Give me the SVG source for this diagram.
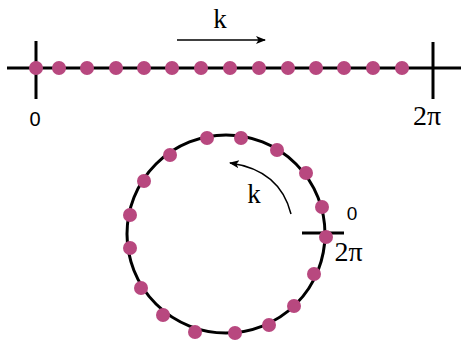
<svg xmlns="http://www.w3.org/2000/svg" width="461" height="343" viewBox="0 0 461 343">
<style>
.ln{stroke:#000;stroke-width:3;fill:none}
.thin{stroke:#000;stroke-width:1.5;fill:none}
.dot{fill:#b8487f}
.sans{font-family:"Liberation Sans",sans-serif;fill:#000}
.serif{font-family:"Liberation Serif",serif;fill:#000}
</style>
<defs>
<marker id="ah" viewBox="0 0 10 10" refX="9" refY="5" markerWidth="10" markerHeight="10" markerUnits="userSpaceOnUse" orient="auto">
<path d="M0,1 L10,5 L0,9 L2.5,5 Z" fill="#000"/>
</marker>
</defs>
<g id="line">
<line class="ln" x1="7" y1="68" x2="461" y2="68"/>
<line class="ln" x1="36" y1="41" x2="36" y2="99"/>
<line class="ln" x1="433" y1="42" x2="433" y2="99"/>
</g>
<g id="line-dots" class="dot">
<circle cx="36" cy="68" r="7"/><circle cx="59" cy="68" r="7"/><circle cx="87" cy="68" r="7"/><circle cx="116" cy="68" r="7"/><circle cx="144" cy="68" r="7"/><circle cx="172" cy="68" r="7"/><circle cx="201" cy="68" r="7"/><circle cx="230" cy="68" r="7"/><circle cx="259" cy="68" r="7"/><circle cx="288" cy="68" r="7"/><circle cx="316" cy="68" r="7"/><circle cx="344" cy="68" r="7"/><circle cx="373" cy="68" r="7"/><circle cx="402" cy="68" r="7"/>
</g>
<g id="line-labels">
<text class="sans" x="35" y="126" font-size="20" text-anchor="middle">0</text>
<text class="serif" x="427" y="125" font-size="28" text-anchor="middle">2π</text>
<text class="serif" x="220" y="28" font-size="27" text-anchor="middle">k</text>
</g>
<g id="connectors">
<line class="thin" x1="177" y1="40" x2="265" y2="40" marker-end="url(#ah)"/>
<path class="thin" d="M291,214 Q280,170 230,163" marker-end="url(#ah)"/>
</g>
<g id="circle">
<circle class="ln" cx="226" cy="234" r="99" stroke-width="2.5"/>
<line class="ln" x1="302" y1="233" x2="344" y2="233"/>
</g>
<g id="circle-dots" class="dot">
<circle cx="326" cy="237" r="7"/><circle cx="322" cy="207" r="7"/><circle cx="306" cy="173" r="7"/><circle cx="277" cy="150" r="7"/><circle cx="241" cy="138" r="7"/><circle cx="207" cy="138" r="7"/><circle cx="170" cy="155" r="7"/><circle cx="144" cy="181" r="7"/><circle cx="130" cy="215" r="7"/><circle cx="130" cy="248" r="7"/><circle cx="141" cy="288" r="7"/><circle cx="163" cy="315" r="7"/><circle cx="195" cy="332" r="7"/><circle cx="235" cy="333" r="7"/><circle cx="269" cy="325" r="7"/><circle cx="294" cy="306" r="7"/><circle cx="314" cy="274" r="7"/>
</g>
<g id="circle-labels">
<text class="sans" x="352" y="220" font-size="19" text-anchor="middle">0</text>
<text class="serif" x="348.5" y="261" font-size="28" text-anchor="middle">2π</text>
<text class="serif" x="254" y="203" font-size="27" text-anchor="middle">k</text>
</g>
</svg>
